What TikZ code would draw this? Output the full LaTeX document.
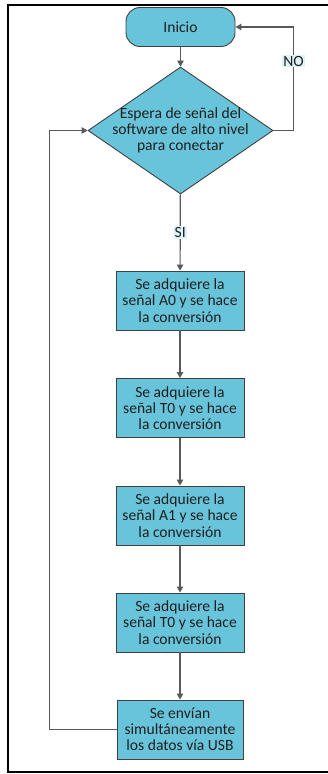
\documentclass[tikz,border=0pt]{standalone}
\usepackage{fontspec}
\setmainfont{Carlito}
\usepackage{tikz}
\usetikzlibrary{positioning,arrows.meta,shapes.geometric}

\definecolor{boxfill}{RGB}{104,196,218}
\definecolor{boxline}{RGB}{64,64,64}
\definecolor{conn}{RGB}{89,89,89}
\definecolor{tagfill}{RGB}{222,243,248}

\begin{document}
\begin{tikzpicture}[
  x=1pt, y=-1pt,
  txt/.style={font=\fontsize{15.6}{16.2}\selectfont, text=black!88, align=center},
  proc/.style={txt, draw=boxline, fill=boxfill, line width=0.9pt,
    minimum width=128pt, minimum height=59pt, inner sep=0pt},
  term/.style={proc, rounded corners=14pt, minimum width=109pt, minimum height=39pt},
  decision/.style={txt, diamond, shape aspect=1.46, draw=boxline, fill=boxfill,
    line width=0.9pt, minimum width=185pt, minimum height=127pt, inner sep=-6pt},
  tag/.style={txt, fill=tagfill, inner sep=1pt},
  arr/.style={-{Triangle[length=6pt, width=6.5pt]}, draw=conn, line width=1.2pt}
]
  \useasboundingbox (0,0) rectangle (328,774);

  % Outer frame (right side runs off the page)
  \draw[line width=2pt] (340,5) -| (8,772) -- (340,772);

  % Start and wait step
  \node[term] (inicio) at (180.5,27) {Inicio};
  \node[decision] (espera) at (180.5,130.5)
    {Espera de señal del\\software de alto nivel\\para conectar};

  % Acquisition chain
  \node[proc] (senalA0) at (180,300.5) {Se adquiere la\\señal A0 y se hace\\la conversión};
  \node[proc] (senalT0) at (180,408) {Se adquiere la\\señal T0 y se hace\\la conversión};
  \node[proc] (senalA1) at (180,515.5) {Se adquiere la\\señal A1 y se hace\\la conversión};
  \node[proc] (senalT0b) at (180,622.5) {Se adquiere la\\señal T0 y se hace\\la conversión};
  \node[proc, minimum width=126pt] (envio) at (180,729.5)
    {Se envían\\simultáneamente\\los datos vía USB};

  % Straight connectors
  \draw[arr] (inicio) -- (espera);
  \draw[arr] (espera) -- node[tag] {SI} (senalA0);
  \draw[arr] (senalA0) -- (senalT0);
  \draw[arr] (senalT0) -- (senalA1);
  \draw[arr] (senalA1) -- (senalT0b);
  \draw[arr] (senalT0b) -- (envio);

  % NO branch back to the start
  \draw[arr] (espera.east) -- ++(20,0) |- node[tag, pos=0.335] {NO} (inicio.east);

  % Loop from the USB step back to the wait step
  \draw[arr] (envio.west) -- ++(-67,0) |- (espera.west);
\end{tikzpicture}
\end{document}
